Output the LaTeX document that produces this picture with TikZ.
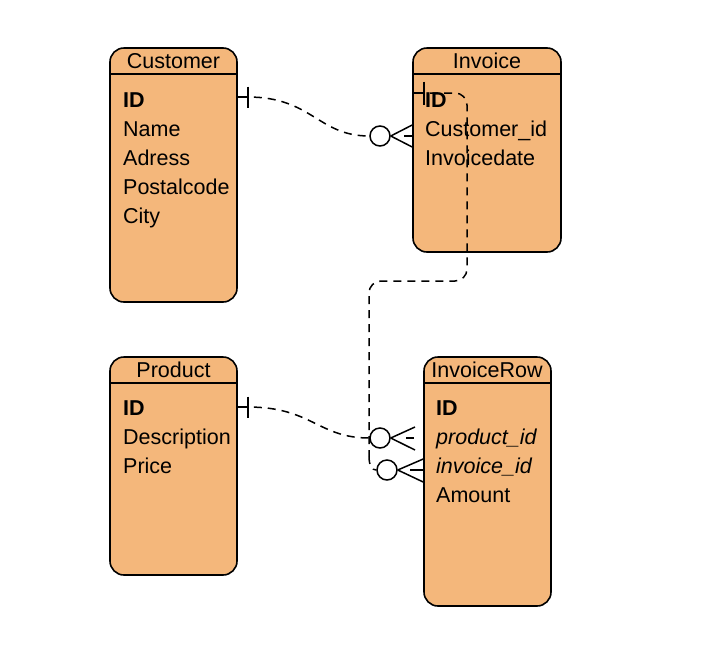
\documentclass[tikz,border=0pt]{standalone}
\usepackage{fontspec}
\setmainfont{Liberation Sans}
\definecolor{entfill}{HTML}{F4B77B}
\begin{document}
\begin{tikzpicture}[x=1pt,y=-1pt,
  entity/.style={draw, line width=1.6pt, fill=entfill, rounded corners=14pt, inner sep=0pt},
  hdr/.style={line width=1.5pt},
  ttl/.style={anchor=base, inner sep=0pt, font=\fontsize{21.5}{24}\selectfont},
  fld/.style={anchor=base west, inner sep=0pt, font=\fontsize{21.5}{24}\selectfont},
  conn/.style={line width=1.5pt},
  dconn/.style={line width=1.5pt, dash pattern=on 8pt off 6pt, dash phase=8pt},
  ring/.style={draw, circle, line width=1.5pt, fill=white, minimum size=20pt, inner sep=0pt}]
\useasboundingbox (0,0) rectangle (725,662);

% entities
\node[entity, minimum width=127pt, minimum height=254pt] (cust) at (173.5,175) {};
\node[entity, minimum width=148pt, minimum height=204pt] (inv) at (487,150) {};
\node[entity, minimum width=127pt, minimum height=218pt] (prod) at (173.5,466) {};
\node[entity, minimum width=127pt, minimum height=249pt] (row) at (487.5,481.5) {};

\draw[hdr] (cust.west |- 0,74) -- (cust.east |- 0,74);
\draw[hdr] (inv.west |- 0,74) -- (inv.east |- 0,74);
\draw[hdr] (prod.west |- 0,383) -- (prod.east |- 0,383);
\draw[hdr] (row.west |- 0,383) -- (row.east |- 0,383);

% titles
\node[ttl] (custT) at (173.5,68.5) {Customer};
\node[ttl] (invT) at (487,68.5) {Invoice};
\node[ttl] (prodT) at (173.5,377.5) {Product};
\node[ttl] (rowT) at (487,377.5) {InvoiceRow};

% fields
\node[fld] (c1) at (123,107.5) {\textbf{ID}};
\node[fld] (c2) at (123,136.5) {Name};
\node[fld] (c3) at (123,165.5) {Adress};
\node[fld] (c4) at (123,194.5) {Postalcode};
\node[fld] (c5) at (123,223.5) {City};

\node[fld] (i1) at (425,107.5) {\textbf{ID}};
\node[fld] (i2) at (425,136.5) {Customer\_id};
\node[fld] (i3) at (425,165.5) {Invoicedate};

\node[fld] (p1) at (123,415.5) {\textbf{ID}};
\node[fld] (p2) at (123,444.5) {Description};
\node[fld] (p3) at (123,473.5) {Price};

\node[fld] (r1) at (436,415.5) {\textbf{ID}};
\node[fld] (r2) at (436,444.5) {\textit{product\_id}};
\node[fld] (r3) at (436,473.5) {\textit{invoice\_id}};
\node[fld] (r4) at (436,502.5) {Amount};

% rings
\node[ring] (o1) at (380,136) {};
\node[ring] (o2) at (387,470) {};
\node[ring] (o3) at (380,438) {};

% Customer -> Invoice
\draw[conn] (cust.east |- 0,97) -- ++(10,0) coordinate (b1);
\draw[conn] ([yshift=10.5pt]b1) -- ([yshift=-10.5pt]b1);
\draw[dconn] (b1) .. controls (312,97) and (318,136) .. (o1.west);
\draw[conn] (o1.east) -- (inv.west |- 0,125);
\draw[conn] (o1.east) -- (inv.west |- 0,147);
\draw[conn] (inv.west |- 0,136) ++(-8,0) -- (inv.west |- 0,136);

% Product -> InvoiceRow
\draw[conn] (prod.east |- 0,407) -- ++(10,0) coordinate (b3);
\draw[conn] ([yshift=10.5pt]b3) -- ([yshift=-10.5pt]b3);
\draw[dconn] (b3) .. controls (312,407) and (318,438) .. (o3.west);
\draw[conn] (o3.east) -- (415,427);
\draw[conn] (o3.east) -- (415,450);
\draw[conn] (406,438) -- (414,438);

% Invoice -> InvoiceRow
\draw[conn] (inv.west |- 0,93) -- ++(12,0) coordinate (b2);
\draw[conn] ([yshift=11.5pt]b2) -- ([yshift=-11.5pt]b2);
\draw[dconn, rounded corners=12pt] (b2) -- (467,93) -- (467,281) -- (369,281) -- (369,456);
\draw[dconn, dash phase=0pt] (369,456) .. controls (369,466) and (372,470) .. (o2.west);
\draw[conn] (o2.east) -- (row.west |- 0,459);
\draw[conn] (o2.east) -- (row.west |- 0,482);
\draw[conn] (410,470) -- (row.west |- 0,470);
\end{tikzpicture}
\end{document}
